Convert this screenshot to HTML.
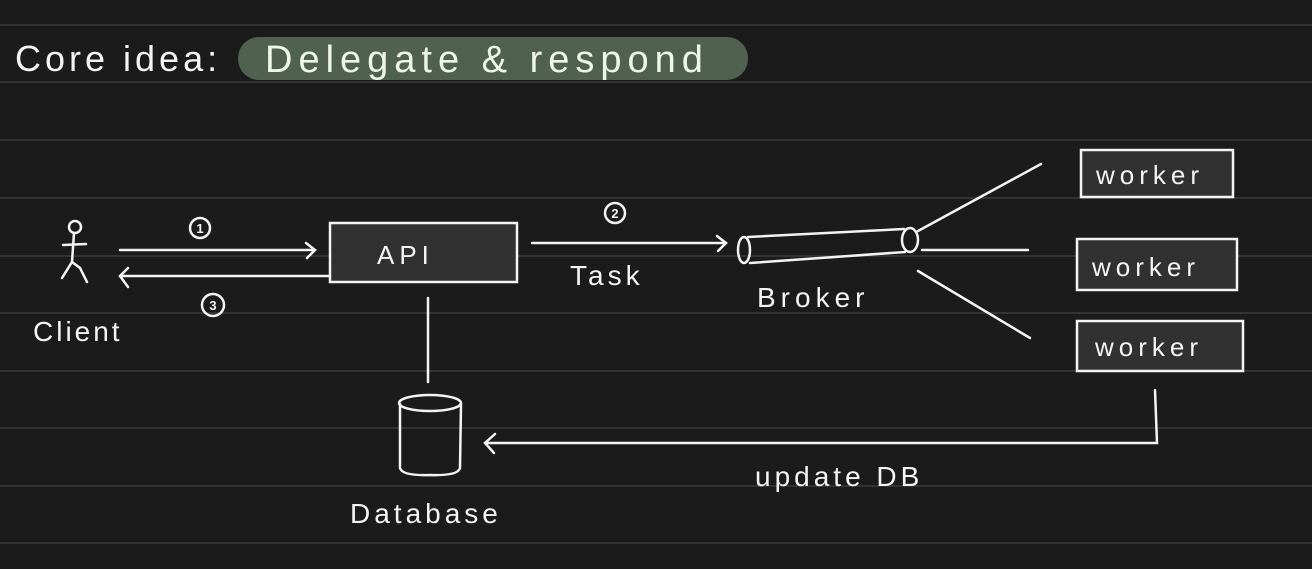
<!DOCTYPE html>
<html><head><meta charset="utf-8"><style>
html,body{margin:0;padding:0;background:#1b1b1b;}
svg{display:block}
text{font-family:"Liberation Sans",sans-serif;fill:#f4f4f4;}
</style></head><body>
<svg width="1312" height="569" viewBox="0 0 1312 569" xmlns="http://www.w3.org/2000/svg">
<rect width="1312" height="569" fill="#1b1b1b"/>
<g stroke="#333" stroke-width="2">
<line x1="0" y1="25" x2="1312" y2="25"/><line x1="0" y1="82" x2="1312" y2="82"/>
<line x1="0" y1="140" x2="1312" y2="140"/><line x1="0" y1="198" x2="1312" y2="198"/>
<line x1="0" y1="256" x2="1312" y2="256"/><line x1="0" y1="313" x2="1312" y2="313"/>
<line x1="0" y1="371" x2="1312" y2="371"/><line x1="0" y1="428" x2="1312" y2="428"/>
<line x1="0" y1="486" x2="1312" y2="486"/><line x1="0" y1="543" x2="1312" y2="543"/>
</g>
<text x="15" y="71" font-size="36" letter-spacing="4">Core idea:</text>
<rect x="238" y="37" width="510" height="43" rx="21" fill="#50614f"/>
<text x="265" y="72" font-size="38" letter-spacing="6" style="fill:#eef6e8">Delegate &amp; respond</text>
<g stroke="#f4f4f4" stroke-width="2.5" fill="none" stroke-linecap="round">
<circle cx="75" cy="227" r="6"/><line x1="74" y1="233" x2="72" y2="262"/>
<line x1="63" y1="245" x2="86" y2="244"/>
<path d="M62 278 L72 262 L80 268 L87 282"/>
<line x1="120" y1="250" x2="315" y2="250"/><path d="M306 243 L315 250 L307 258"/>
<line x1="330" y1="276" x2="120" y2="276"/><path d="M128 268 L120 276 L128 287"/>
<circle cx="200" cy="228" r="10"/><circle cx="213" cy="305" r="11"/>
<rect x="330" y="223" width="187" height="59" fill="#313131"/>
<line x1="428" y1="298" x2="428" y2="382"/>
<line x1="532" y1="243" x2="726" y2="243"/><path d="M717 236 L726 243 L718 251"/>
<circle cx="615" cy="213" r="10"/>
<ellipse cx="744" cy="250" rx="6" ry="13"/>
<path d="M748 237 L904 229 M750 263 L905 252"/>
<ellipse cx="910" cy="240" rx="8" ry="12"/>
<line x1="918" y1="231" x2="1041" y2="164"/>
<line x1="922" y1="250" x2="1028" y2="250"/>
<line x1="918" y1="271" x2="1030" y2="338"/>
<rect x="1081" y="150" width="152" height="47" fill="#313131"/>
<rect x="1077" y="239" width="160" height="51" fill="#313131"/>
<rect x="1077" y="321" width="166" height="50" fill="#313131"/>
<path d="M1155 390 L1157 443 L485 443"/><path d="M495 434 L485 443 L494 453"/>
<ellipse cx="430" cy="403" rx="31" ry="8"/>
<path d="M400 404 L400 468 Q402 476 430 475 Q458 476 460 468 L461 404"/>
</g>
<g font-size="13" text-anchor="middle" font-weight="bold"><text x="200" y="233">1</text><text x="213" y="310">3</text><text x="615" y="218">2</text></g>
<text x="377" y="264" font-size="26" letter-spacing="5">API</text>
<text x="33" y="341" font-size="28" letter-spacing="3">Client</text>
<text x="570" y="285" font-size="28" letter-spacing="4">Task</text>
<text x="757" y="307" font-size="28" letter-spacing="5">Broker</text>
<text x="1096" y="184" font-size="26" letter-spacing="5">worker</text>
<text x="1092" y="276" font-size="26" letter-spacing="5">worker</text>
<text x="1095" y="356" font-size="26" letter-spacing="5">worker</text>
<text x="755" y="486" font-size="28" letter-spacing="4">update DB</text>
<text x="350" y="523" font-size="28" letter-spacing="4">Database</text>
</svg>
</body></html>
